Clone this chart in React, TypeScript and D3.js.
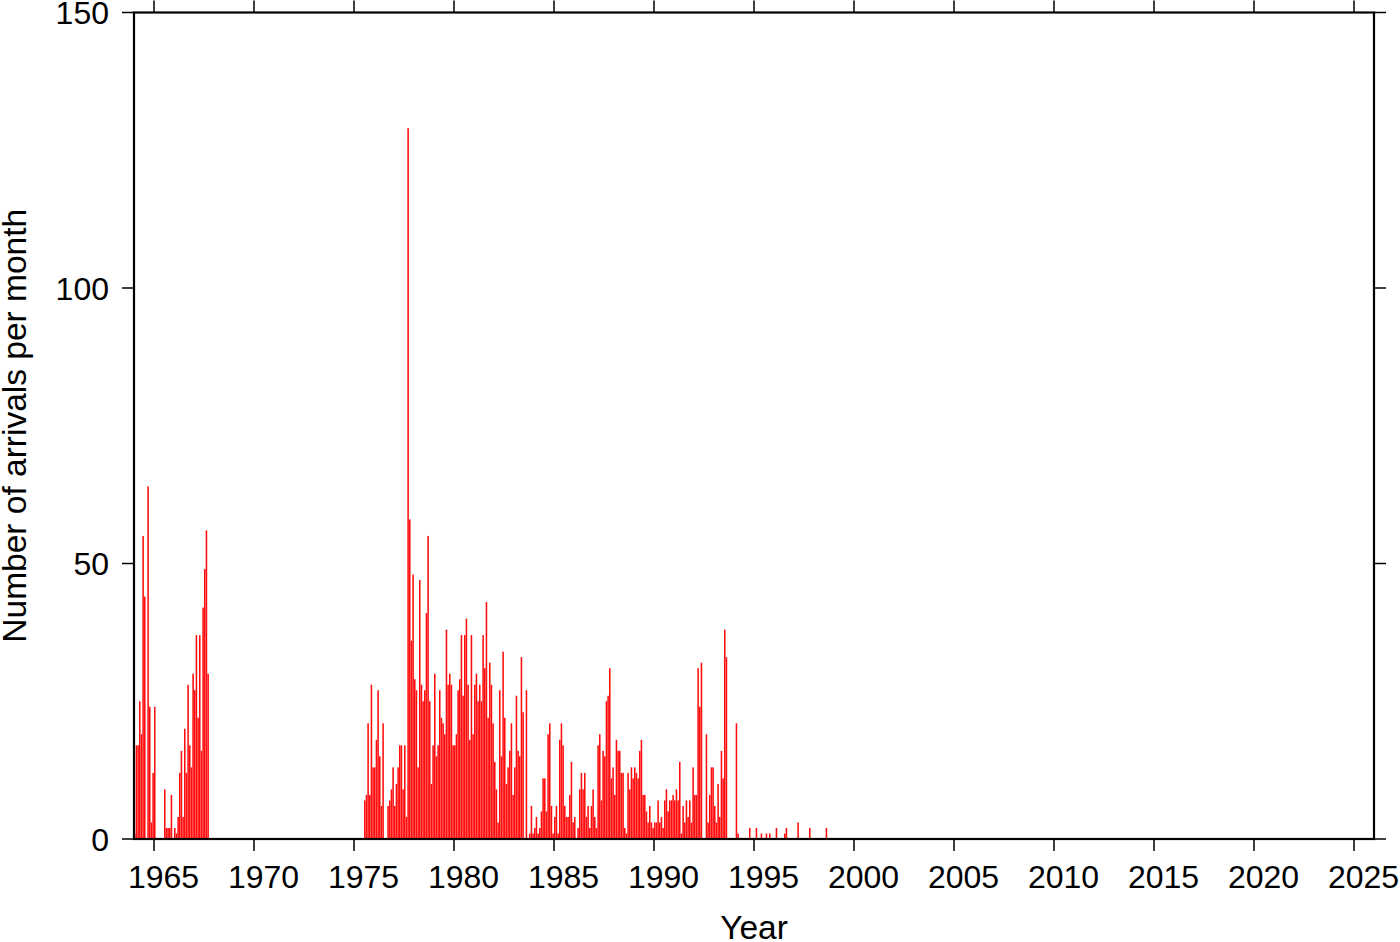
import React from "react";
import * as d3 from "d3";

// Monthly arrival counts, first series starts January 1964 (month index 0)
const series1Start = "1964-01";
const series1Counts = [
  1, 17, 17, 25, 19, 55, 44, 0, 64, 24, 3, 12,
  24, 0, 0, 0, 0, 0, 9, 2, 2, 2, 8, 0,
  2, 1, 4, 12, 16, 4, 20, 12, 28, 17, 13, 30,
  27, 37, 22, 37, 16, 42, 49, 56, 30,
];

// Second series starts July 1975
const series2Start = "1975-07";
const series2Counts = [
  7, 8, 21, 8, 28, 13, 13, 18, 27, 15, 6, 21,
  0, 0, 6, 7, 9, 13, 6, 10, 13, 17, 17, 9,
  17, 4, 129, 58, 36, 48, 29, 27, 13, 47, 28, 25,
  27, 41, 55, 25, 10, 17, 30, 15, 17, 27, 22, 21,
  19, 38, 28, 30, 28, 17, 17, 19, 27, 29, 37, 26,
  37, 40, 28, 18, 37, 19, 28, 30, 25, 28, 25, 37,
  31, 43, 22, 32, 28, 21, 14, 9, 3, 27, 15, 34,
  22, 10, 13, 16, 21, 8, 13, 26, 16, 15, 33, 23,
  0, 27, 0, 1, 6, 1, 2, 4, 1, 2, 5, 11,
  11, 5, 19, 21, 6, 1, 4, 6, 1, 18, 21, 17,
  6, 4, 4, 8, 14, 3, 4, 0, 2, 9, 12, 9,
  12, 4, 6, 2, 6, 9, 4, 2, 17, 19, 7, 16,
  15, 25, 26, 31, 11, 13, 8, 18, 16, 16, 12, 12,
  2, 1, 12, 9, 13, 11, 13, 12, 11, 16, 18, 8,
  8, 5, 3, 6, 3, 2, 3, 3, 7, 3, 4, 2,
  7, 9, 5, 7, 7, 8, 7, 9, 7, 14, 1, 6,
  3, 7, 4, 7, 3, 13, 8, 8, 31, 24, 32, 0,
  0, 19, 3, 8, 13, 13, 6, 3, 10, 4, 16, 11,
  38, 33, 0, 0, 0, 0, 0, 21, 1,
];

// Sparse later arrivals
const sparseMonths = ["1994-10", "1995-02", "1995-05", "1995-08", "1995-10", "1996-02", "1996-07", "1996-08", "1997-03", "1997-10", "1998-08"];
const sparseCounts = [2, 2, 1, 1, 1, 2, 1, 2, 3, 2, 2];

const xTicks = [1965, 1970, 1975, 1980, 1985, 1990, 1995, 2000, 2005, 2010, 2015, 2020, 2025];
const yTicks = [0, 50, 100, 150];
const xTitle = "Year";
const yTitle = "Number of arrivals per month";

function monthToYear(s: string) {
  const [y, m] = s.split("-").map(Number);
  return y + (m - 1) / 12;
}

export default function App() {
  const W = 1400, H = 942;
  const left = 134, right = 1374, top = 12.5, bottom = 839;
  const x = d3.scaleLinear().domain([1964, 2026]).range([left, right]);
  const y = d3.scaleLinear().domain([0, 150]).range([bottom, top]);

  const bars: { t: number; v: number }[] = [];
  const s1 = monthToYear(series1Start);
  series1Counts.forEach((v, i) => bars.push({ t: s1 + i / 12, v }));
  const s2 = monthToYear(series2Start);
  series2Counts.forEach((v, i) => bars.push({ t: s2 + i / 12, v }));
  sparseMonths.forEach((m, i) => bars.push({ t: monthToYear(m), v: sparseCounts[i] }));

  const font = "'Liberation Sans', Arial, Helvetica, sans-serif";
  const fs = 32;
  const fsTitle = 33.5;

  return (
    <div style={{ position: "absolute", left: 0, top: 0 }}>
      <svg width={W} height={H} style={{ display: "block", background: "#fff" }}>
        <g>
          {bars.filter(b => b.v > 0).map((b, i) => {
            const x0 = x(b.t);
            const x1 = x(b.t + 1 / 12);
            return (
              <rect key={i} x={x0} y={y(b.v)} width={Math.max(0.6, x1 - x0 - 0.12)} height={y(0) - y(b.v)} fill="#ff0d0d" />
            );
          })}
        </g>
        <rect x={left} y={top} width={right - left} height={bottom - top} fill="none" stroke="#000" strokeWidth={2.2} />
        {xTicks.map(t => (
          <g key={"x" + t}>
            <line x1={x(t)} x2={x(t)} y1={bottom} y2={bottom + 12} stroke="#000" strokeWidth={1.5} />
            <line x1={x(t)} x2={x(t)} y1={top} y2={top - 12} stroke="#000" strokeWidth={1.5} />
            <text x={x(t) + 9.5} y={888} textAnchor="middle" fontFamily={font} fontSize={fs} fill="#000">{t}</text>
          </g>
        ))}
        {yTicks.map(t => (
          <g key={"y" + t}>
            <line x1={left - 12} x2={left} y1={y(t)} y2={y(t)} stroke="#000" strokeWidth={1.5} />
            <line x1={right} x2={right + 12} y1={y(t)} y2={y(t)} stroke="#000" strokeWidth={1.5} />
            <text x={109} y={y(t) + 11.5} textAnchor="end" fontFamily={font} fontSize={fs} fill="#000">{t}</text>
          </g>
        ))}
        <text x={(left + right) / 2} y={939} textAnchor="middle" fontFamily={font} fontSize={fsTitle} fill="#000">{xTitle}</text>
        <text transform={`translate(26, ${(top + bottom) / 2}) rotate(-90)`} textAnchor="middle" fontFamily={font} fontSize={fsTitle} fill="#000">{yTitle}</text>
      </svg>
    </div>
  );
}
